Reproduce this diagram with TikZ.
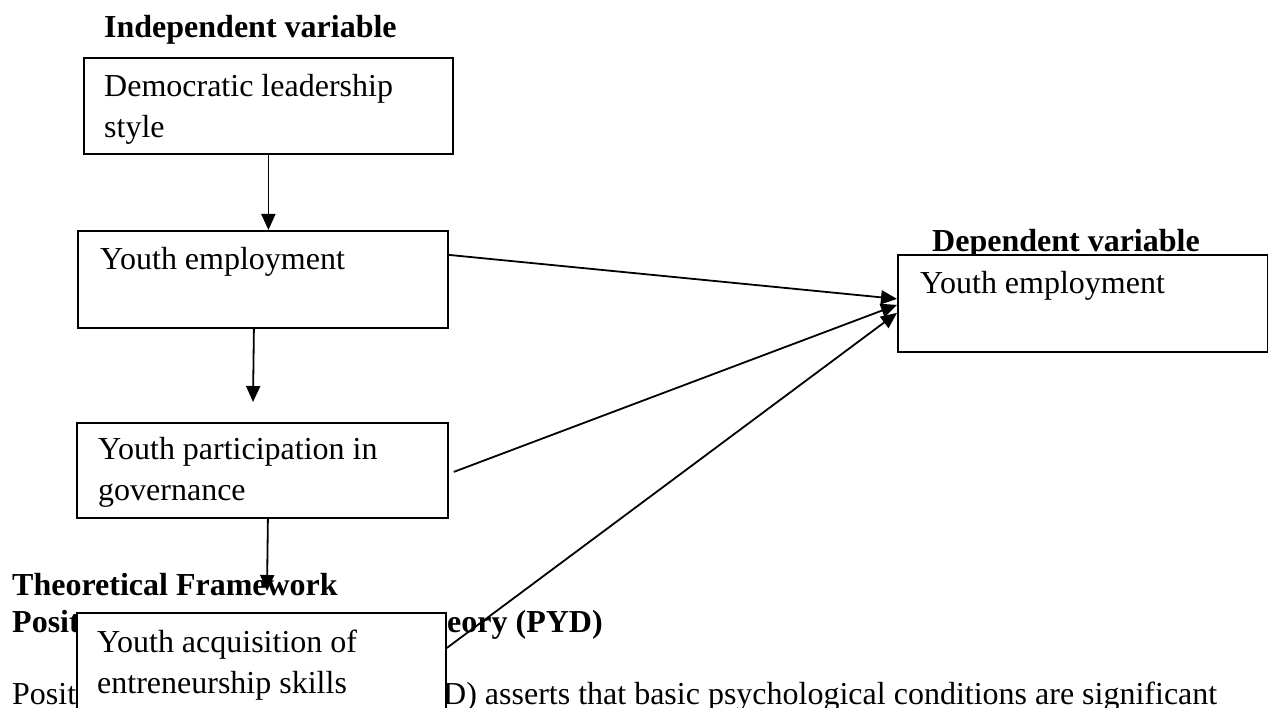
\documentclass[tikz,border=0pt]{standalone}
\usepackage{fontspec}
\setmainfont{Liberation Serif}
\usetikzlibrary{arrows.meta,calc}
\tikzset{
  txt/.style={inner sep=0pt, anchor=base west, font=\fontsize{32}{41}\selectfont},
  head/.style={txt, font=\fontsize{32}{41}\selectfont\bfseries},
  boxnode/.style={draw=black, fill=white, line width=1.8pt, rectangle, inner sep=0pt, anchor=north west},
  conn/.style={line width=1.8pt, -{Triangle[length=16pt,width=14pt]}}
}
\begin{document}
\begin{tikzpicture}[x=1pt,y=-1pt]
\useasboundingbox (0,0) rectangle (1268,708);
\clip (0,0) rectangle (1268,708);
% headings and body text (drawn first, boxes cover them)
\node[head] (hIndep) at (104,38) {Independent variable};
\node[head] (hTheo) at (12,595) {Theoretical Framework};
\node[head] (hPydA) at (12,632) {Posit};
\node[head] (hPydB) at (447,632) {eory (PYD)};
\node[txt] (paraA) at (12,704) {Posit};
\node[txt] (paraB) at (443,704) {D) asserts that basic psychological conditions are significant};
\node[head] (hDep) at (932,252) {Dependent variable};
% boxes
\node[boxnode, minimum width=369pt, minimum height=96pt] (b1) at (83,57) {};
\node[boxnode, minimum width=370pt, minimum height=97pt] (b2) at (77,230) {};
\node[boxnode, minimum width=371pt, minimum height=95pt] (b3) at (76,422) {};
\node[boxnode, minimum width=369pt, minimum height=110pt] (b4) at (76,612) {};
\node[boxnode, minimum width=370pt, minimum height=97pt] (dep) at (897,254) {};
% box texts
\node[txt] (t1a) at (104,97) {Democratic leadership};
\node[txt] (t1b) at (104,138) {style};
\node[txt] (t2) at (100,270) {Youth employment};
\node[txt] (t3a) at (98,459) {Youth participation in};
\node[txt] (t3b) at (98,500) {governance};
\node[txt] (t4a) at (97,652) {Youth acquisition of};
\node[txt] (t4b) at (97,693) {entreneurship skills};
\node[txt] (tdep) at (920,294) {Youth employment};
% free ends
\coordinate (e2) at (253,402);
\coordinate (e3) at (267,591);
% connectors
\draw[conn] (b1.south) -- (b1.south |- b2.north);
\draw[conn] ([xshift=-9pt]b2.south) -- (e2);
\draw[conn] ([xshift=5.5pt]b3.south) -- (e3);
\draw[conn] ([yshift=24.5pt]b2.east) -- ([yshift=4.5pt]dep.west);
\draw[conn] ([xshift=5pt,yshift=-1.5pt]b3.east) -- ([yshift=-1.5pt]dep.west);
\draw[conn] ([yshift=-36pt]b4.north east) -- ([yshift=-9.5pt]dep.west);
\end{tikzpicture}
\end{document}
